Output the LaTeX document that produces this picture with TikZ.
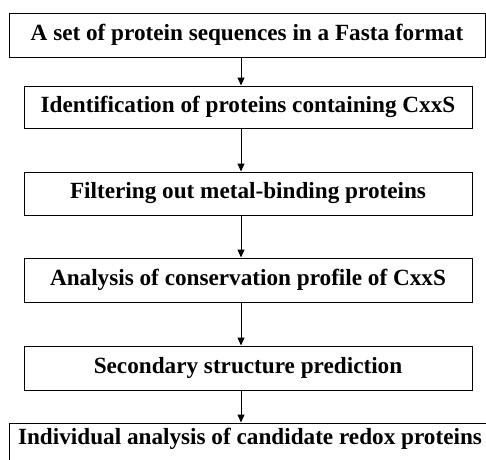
\documentclass[tikz,border=0pt]{standalone}
\usepackage{fontspec}
\setmainfont{Liberation Serif}
\usetikzlibrary{arrows.meta}
\tikzset{
  >={Triangle[length=8pt,width=7pt]},
  stepbox/.style={draw=black,line width=1pt,fill=white,minimum width=448pt,inner sep=0pt,font=\fontsize{23.2}{27}\selectfont\bfseries},
  widebox/.style={stepbox,minimum width=476pt},
  ptr/.style={->,line width=1pt,draw=black},
}
\begin{document}
\begin{tikzpicture}[x=1pt,y=-1pt]
  \useasboundingbox (0,0) rectangle (486,459);
  \clip (0,0) rectangle (486,459);
  \node[widebox,minimum height=44pt] (fasta) at (247,35) {A set of protein sequences in a Fasta format};
  \node[stepbox,minimum height=42pt] (cxxs) at (248,107) {Identification of proteins containing CxxS};
  \node[stepbox,minimum height=43pt] (metal) at (248,193.5) {Filtering out metal-binding proteins};
  \node[stepbox,minimum height=44pt] (consv) at (248,280) {Analysis of conservation profile of CxxS};
  \node[stepbox,minimum height=44pt] (second) at (248,368) {Secondary structure prediction};
  % last box runs off the page
  \node[widebox,minimum width=482pt,minimum height=50pt,text height=15pt,text depth=22pt] (indiv) at (250,448) {Individual analysis of candidate redox proteins};
  \foreach \a/\b in {fasta/cxxs,cxxs/metal,metal/consv,consv/second,second/indiv}
    \draw[ptr] (\a.south -| 241,0) -- (\b.north -| 241,0);
\end{tikzpicture}
\end{document}
